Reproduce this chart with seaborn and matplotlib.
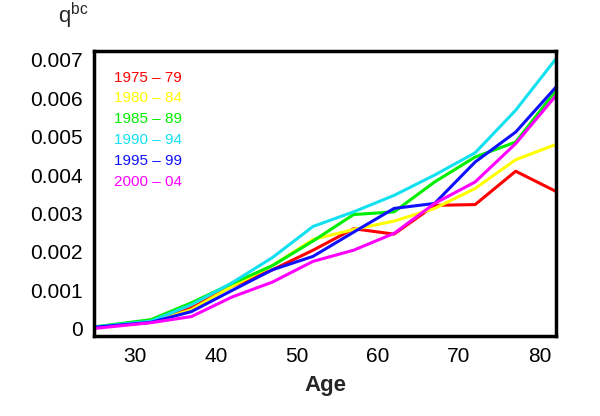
import numpy as np
import pandas as pd
import matplotlib
matplotlib.use("Agg")
import matplotlib.pyplot as plt
from matplotlib.ticker import MultipleLocator
import seaborn as sns

# age points (x axis)
ages = [25, 32, 37, 42, 47, 52, 57, 62, 67, 72, 77, 82]

# q^bc by period
q_1975 = [0.00003, 0.00016, 0.00054, 0.00110, 0.00153, 0.00204, 0.00260, 0.00246, 0.00321, 0.00323, 0.00410, 0.00357]
q_1980 = [0.00003, 0.00016, 0.00049, 0.00110, 0.00164, 0.00232, 0.00258, 0.00280, 0.00313, 0.00365, 0.00440, 0.00480]
q_1985 = [0.00004, 0.00023, 0.00067, 0.00117, 0.00164, 0.00228, 0.00297, 0.00304, 0.00382, 0.00447, 0.00486, 0.00621]
q_1990 = [0.00004, 0.00019, 0.00062, 0.00119, 0.00185, 0.00266, 0.00304, 0.00347, 0.00400, 0.00458, 0.00569, 0.00704]
q_1995 = [0.00003, 0.00016, 0.00044, 0.00099, 0.00153, 0.00188, 0.00251, 0.00313, 0.00326, 0.00434, 0.00512, 0.00630]
q_2000 = [0.00000, 0.00015, 0.00031, 0.00082, 0.00121, 0.00175, 0.00204, 0.00248, 0.00326, 0.00382, 0.00482, 0.00608]

periods = ["1975 \u2013 79", "1980 \u2013 84", "1985 \u2013 89", "1990 \u2013 94", "1995 \u2013 99", "2000 \u2013 04"]
colors = ["#FF0000", "#FFFF00", "#00EE00", "#11E0F0", "#1010FF", "#FF00FF"]

series = [q_1975, q_1980, q_1985, q_1990, q_1995, q_2000]
df = pd.concat([pd.DataFrame({"Age": ages, "q": s, "period": p}) for s, p in zip(series, periods)],
               ignore_index=True)

sns.set_style("white")
plt.rcParams["font.family"] = ["Liberation Sans", "DejaVu Sans"]
plt.rcParams["mathtext.default"] = "regular"

fig = plt.figure(figsize=(6, 4.16), dpi=100)
ax = fig.add_axes([0.157, 0.192, 0.770, 0.685])

sns.lineplot(data=df, x="Age", y="q", hue="period", hue_order=periods, palette=colors,
             linewidth=2.2, ax=ax)

ax.set_xlim(25, 82)
ax.set_ylim(-0.0002, 0.00723)
ax.set_xticks([30, 40, 50, 60, 70, 80])
ax.xaxis.set_minor_locator(MultipleLocator(2))
ax.set_yticks([0, 0.001, 0.002, 0.003, 0.004, 0.005, 0.006, 0.007])
ax.set_yticklabels(["0", "0.001", "0.002", "0.003", "0.004", "0.005", "0.006", "0.007"])
ax.tick_params(axis="both", which="major", direction="in", length=4, width=0.6,
               labelsize=15, colors="#bbbbbb", labelcolor="black", pad=8)
ax.tick_params(axis="x", which="minor", direction="in", length=2, width=0.5, colors="#bbbbbb")

for sp in ax.spines.values():
    sp.set_linewidth(2.5)
    sp.set_color("black")

ax.set_xlabel("Age", fontsize=16, fontweight="bold", labelpad=6)
ax.set_ylabel("")
fig.text(0.097, 0.962, "q$^{bc}$", fontsize=16, ha="left", va="center")

leg = ax.legend(loc="upper left", bbox_to_anchor=(0.013, 0.98), frameon=False,
                handlelength=0, handletextpad=0, labelspacing=0.45, fontsize=11,
                labelcolor="linecolor")
for h in leg.legend_handles:
    h.set_visible(False)

fig.savefig("out.png", dpi=100)
